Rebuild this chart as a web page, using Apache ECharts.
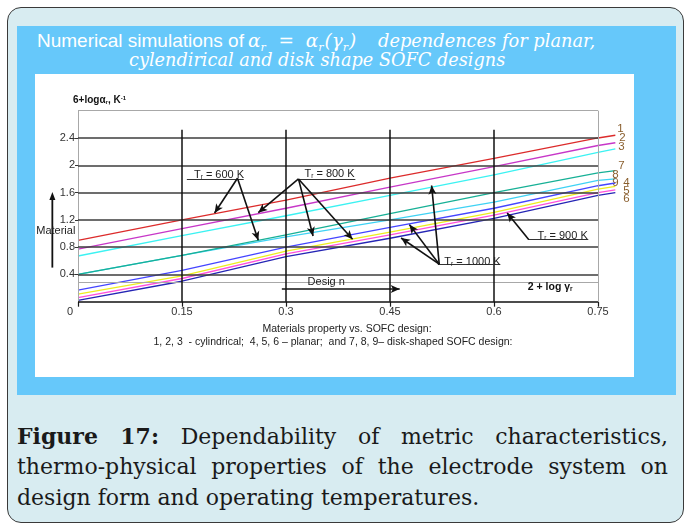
<!DOCTYPE html>
<html><head><meta charset="utf-8">
<script src="https://cdn.jsdelivr.net/npm/echarts@6/dist/echarts.min.js"></script>
<style>
html,body{margin:0;padding:0;background:#fff;width:686px;height:531px;overflow:hidden;position:relative;}
#card{position:absolute;left:7px;top:7px;width:677px;height:516px;border:1.5px solid #3a3a3a;border-radius:14px;background:#d8ecf1;box-sizing:border-box;}
#panel{position:absolute;left:17px;top:26px;width:659px;height:369px;background:#66c8fa;}
#chart{position:absolute;left:35px;top:74px;width:599px;height:303px;background:#fff;}
.t1{position:absolute;left:37px;top:30px;white-space:nowrap;color:#fff;}
.sans{font-family:'Liberation Sans',Arial,sans-serif;font-size:19px;display:inline-block;}
.math{font-family:'DejaVu Serif',serif;font-style:italic;font-size:18.5px;display:inline-block;white-space:pre;}
.math2{font-family:'DejaVu Serif',serif;font-style:italic;font-size:17.8px;display:inline-block;}
.math sub{font-size:11px;vertical-align:-4px;padding-right:1px;}
.t2{position:absolute;left:129px;top:50px;white-space:nowrap;color:#fff;font-family:'DejaVu Serif',serif;font-style:italic;font-size:17.7px;}
#caption{position:absolute;left:17px;top:421px;width:651px;font-family:'DejaVu Serif',serif;font-size:22px;line-height:30.3px;color:#1a1a1a;}
#caption .j{text-align:justify;text-align-last:justify;white-space:nowrap;}
</style></head>
<body>
<div id="card"></div>
<div id="panel"></div>
<div class="t1"><span class="sans" style="width:211px">Numerical simulations of</span><span class="math" style="width:130px">α<sub>r</sub>  =  α<sub>r</sub>(γ<sub>r</sub>)</span><span class="math2">dependences for planar,</span></div>
<div class="t2">cylendirical and disk shape SOFC designs</div>
<div id="chart"></div>
<div id="caption"><div class="j"><b>Figure 17:</b> Dependability of metric characteristics,</div><div class="j">thermo-physical properties of the electrode system on</div><div>design form and operating temperatures.</div></div>
<script>
// ---- data ----
const xValues = [0, 0.15, 0.3, 0.45, 0.6, 0.75, 0.775];
const seriesNames = ['8', '1', '2', '3', '7', '9', '4', '5', '6'];
const s1 = [0.90, 1.20, 1.49, 1.81, 2.10, 2.40, 2.44];
const s2 = [0.77, 1.07, 1.37, 1.68, 1.98, 2.29, 2.33];
const s3 = [0.67, 0.97, 1.26, 1.56, 1.86, 2.19, 2.24];
const s7 = [0.40, 0.68, 0.98, 1.29, 1.60, 1.89, 1.92];
const s8 = [0.40, 0.68, 0.95, 1.20, 1.46, 1.78, 1.80];
const s9 = [0.17, 0.46, 0.80, 1.09, 1.37, 1.70, 1.74];
const s4 = [0.11, 0.38, 0.74, 1.02, 1.31, 1.65, 1.69];
const s5 = [0.06, 0.34, 0.70, 0.98, 1.27, 1.60, 1.64];
const s6 = [0.02, 0.30, 0.66, 0.93, 1.22, 1.56, 1.60];
const seriesValues = {'1': s1, '2': s2, '3': s3, '7': s7, '8': s8, '9': s9, '4': s4, '5': s5, '6': s6};
const xTickValues = [0, 0.15, 0.3, 0.45, 0.6, 0.75];
const xInnerTicks = [0.15, 0.3, 0.45, 0.6];
const yGridValues = [0.4, 0.8, 1.2, 1.6, 2, 2.4];
const xFrame = [0, 0.75];
const yFrame = [0, 2.8];
// annotation anchors in data units
const arrowSegments = [
  [0.230, 1.81, 0.197, 1.30], [0.230, 1.81, 0.260, 0.90],
  [0.318, 1.80, 0.260, 1.305], [0.318, 1.80, 0.339, 0.963], [0.318, 1.80, 0.396, 0.915],
  [0.650, 0.911, 0.619, 1.30],
  [0.521, 0.55, 0.510, 1.704], [0.521, 0.55, 0.478, 1.13], [0.521, 0.55, 0.466, 0.934],
  [0.294, 0.185, 0.464, 0.185]
];
const underlineSegments = [
  [0.157, 1.80, 0.239, 1.80], [0.319, 1.80, 0.400, 1.80],
  [0.649, 0.911, 0.736, 0.911], [0.519, 0.543, 0.609, 0.543]
];
const materialArrow = [-0.037, 0.50, -0.037, 1.607];
const materialText = {x: -0.032, y: 1.032, text: 'Material'};
const boxLineValue = 0.292;
const gridTopOfVerticals = 2.52;
const annotationTexts = [
  {x: 0.2034, y: 1.86, text: '{t|T}{s|r}{t| = 600 K}'},
  {x: 0.3628, y: 1.875, text: '{t|T}{s|r}{t| = 800 K}'},
  {x: 0.699, y: 0.964, text: '{t|T}{s|r}{t| = 900 K}'},
  {x: 0.569, y: 0.584, text: '{t|T}{s|r}{t| = 1000 K}'},
  {x: 0.358, y: 0.283, text: '{t|Desig n}'},
  {x: 0.681, y: 0.219, text: '{b|2 + log γ}{bs|r}'}
];
const subtitleLines = ['Materials property vs. SOFC design:', '1, 2, 3  - cylindrical;  4, 5, 6 \u2013 planar;  and 7, 8, 9\u2013 disk-shaped SOFC design:'];

// ---- styles ----
const colors = {'1':'#dc2b2b','2':'#c737c8','3':'#3cf2f2','7':'#17b096','8':'#3fd2f4','9':'#4545ff','4':'#eded1e','5':'#ff50dc','6':'#2525b5'};
const labelOffsets = {'1':[0,-6],'2':[2,-5],'3':[1,-2],'7':[1,-4.5],'8':[-5,-4],'9':[-5,0],'4':[6,-3.5],'5':[6,0.6],'6':[6,6.2]};
const ff = "'Liberation Sans', Arial, sans-serif";
const rich = {
  t: {fontSize: 11, color: '#222', fontFamily: ff},
  s: {fontSize: 6.5, color: '#222', fontFamily: ff, verticalAlign: 'bottom'},
  b: {fontSize: 10.5, color: '#111', fontWeight: 'bold', fontFamily: ff},
  bs: {fontSize: 6.5, color: '#111', fontWeight: 'bold', fontFamily: ff, verticalAlign: 'bottom'}
};

const chart = echarts.init(document.getElementById('chart'));
const lineSeries = seriesNames.map(n => ({
  type: 'line', name: n, symbol: 'none', clip: false, silent: true,
  data: xValues.map((x, i) => [x, seriesValues[n][i]]),
  lineStyle: {color: colors[n], width: 1.3}, itemStyle: {color: colors[n]},
  endLabel: {show: true, formatter: '{a}', color: '#8a5f2e', fontSize: 11.5, fontFamily: ff, distance: 2, offset: labelOffsets[n]},
  z: 3
}));
const seg = a => [{coord: [a[0], a[1]]}, {coord: [a[2], a[3]]}];
const ruleSeries = (data, style, z) => ({
  type: 'line', data: [], clip: false, silent: true, z: z,
  markLine: {silent: true, symbol: ['none', 'none'], animation: false, label: {show: false},
    lineStyle: Object.assign({type: 'solid'}, style), emphasis: {disabled: true}, data: data}
});
const option = {
  animation: false,
  backgroundColor: '#fff',
  grid: {left: 43, top: 36.7, right: 15.2, bottom: 75.3, show: false},
  xAxis: {
    type: 'value', min: 0, max: 0.78, interval: 0.15,
    axisLine: {show: false},
    axisTick: {show: true, length: 5, customValues: xTickValues, lineStyle: {color: '#1a1a1a', width: 1.2}},
    splitLine: {show: false},
    axisLabel: {fontFamily: ff, fontSize: 11, color: '#333', margin: 5, customValues: xTickValues,
      formatter: v => v === 0 ? '{z|0}' : String(v),
      rich: {z: {padding: [0, 16, 0, 0], fontSize: 11, color: '#333', fontFamily: ff}}}
  },
  yAxis: {
    type: 'value', min: 0, max: 2.8, interval: 0.4,
    axisLine: {show: false},
    axisTick: {show: true, length: 3, lineStyle: {color: '#333'}},
    splitLine: {show: false},
    axisLabel: {showMinLabel: false, showMaxLabel: false, fontFamily: ff, fontSize: 11, color: '#333', margin: 3}
  },
  graphic: [
    {type: 'text', left: 38, top: 21, style: {text: '{b|6+logα}{bs|r}{b|, K}{sp|-1}', rich: {
      b: {fontSize: 10, fontWeight: 'bold', fill: '#111', fontFamily: ff},
      bs: {fontSize: 6, fontWeight: 'bold', fill: '#111', fontFamily: ff, verticalAlign: 'bottom'},
      sp: {fontSize: 6, fontWeight: 'bold', fill: '#111', fontFamily: ff, verticalAlign: 'top'}}}},
    {type: 'text', style: {x: 312, y: 255.3, text: subtitleLines[0], textAlign: 'center', textVerticalAlign: 'middle', fontSize: 10.5, fontFamily: ff, fill: '#222'}},
    {type: 'text', style: {x: 298, y: 268.3, text: subtitleLines[1], textAlign: 'center', textVerticalAlign: 'middle', fontSize: 10.5, fontFamily: ff, fill: '#222'}}
  ],
  series: [
    ruleSeries([
      [{coord: [xFrame[0], yFrame[1]]}, {coord: [xFrame[1], yFrame[1]]}],
      [{coord: [xFrame[0], yFrame[0]]}, {coord: [xFrame[0], yFrame[1]]}],
      [{coord: [xFrame[1], yFrame[0]]}, {coord: [xFrame[1], yFrame[1]]}],
      [{coord: [xFrame[0], boxLineValue]}, {coord: [xFrame[1], boxLineValue]}]
    ], {color: '#a8a8a8', width: 1}, 1),
    ruleSeries(yGridValues.map(v => [{coord: [xFrame[0], v]}, {coord: [xFrame[1], v]}]), {color: '#3c3c3c', width: 1.5}, 1),
    ruleSeries([[{coord: [xFrame[0], 0]}, {coord: [xFrame[1], 0]}]].concat(
      xInnerTicks.map(v => [{coord: [v, gridTopOfVerticals]}, {coord: [v, 0]}])), {color: '#111', width: 1.5}, 2)
  ].concat(lineSeries).concat([
    {type: 'line', data: [], clip: false, silent: true, z: 4,
      markLine: {silent: true, symbol: ['none', 'none'], animation: false, label: {show: false},
        lineStyle: {color: '#333', width: 1, type: 'solid'},
        data: underlineSegments.map(seg)},
      markPoint: {silent: true, symbol: 'rect', symbolSize: 1, itemStyle: {color: 'rgba(0,0,0,0)'}, animation: false,
        label: {show: true, position: 'inside', rich: rich},
        data: annotationTexts.map(a => ({coord: [a.x, a.y], label: {formatter: a.text}}))}},
    {type: 'line', data: [], clip: false, silent: true, z: 5,
      markLine: {silent: true, symbol: ['none', 'arrow'], symbolSize: [6, 9], animation: false, label: {show: false},
        lineStyle: {color: '#111', width: 1.6, type: 'solid'},
        data: arrowSegments.map(seg)}}
  ])
};
chart.setOption(option);

// "Material" annotation sits left of the plot area: place it through the axes' own conversion
const p0 = chart.convertToPixel({gridIndex: 0}, [materialArrow[0], materialArrow[1]]);
const p1 = chart.convertToPixel({gridIndex: 0}, [materialArrow[2], materialArrow[3]]);
const pt = chart.convertToPixel({gridIndex: 0}, [materialText.x, materialText.y]);
chart.setOption({graphic: option.graphic.concat([
  {type: 'line', shape: {x1: p0[0], y1: p0[1], x2: p1[0], y2: p1[1] + 6}, style: {stroke: '#111', lineWidth: 1.8}, z: 10},
  {type: 'polygon', shape: {points: [[p1[0] - 3, p1[1] + 8], [p1[0] + 3, p1[1] + 8], [p1[0], p1[1]]]}, style: {fill: '#111'}, z: 10},
  {type: 'text', z: 11, style: {x: pt[0], y: pt[1], text: materialText.text, textAlign: 'center', textVerticalAlign: 'middle', fontSize: 11, fontFamily: ff, fill: '#222'}}
])});
</script>
</body></html>
